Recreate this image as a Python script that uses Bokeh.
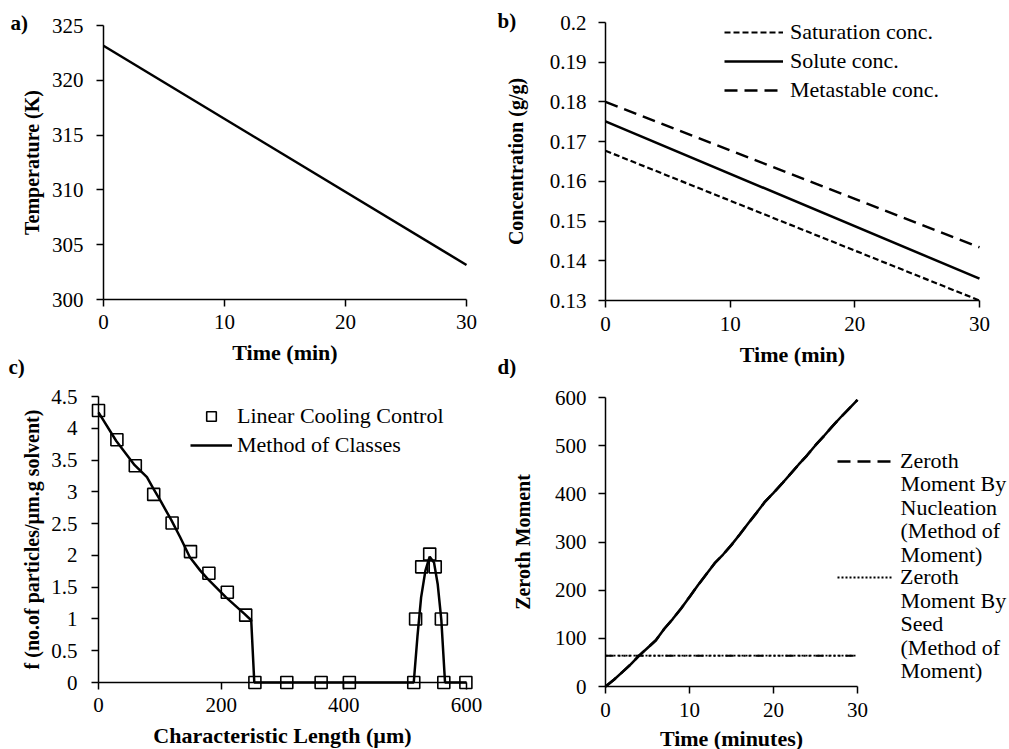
from bokeh.plotting import figure
from bokeh.layouts import column, row
from bokeh.models import Label, Legend, LegendItem, FixedTicker, Range1d
from bokeh.embed import file_html
from bokeh.resources import INLINE

FONT = "Liberation Serif"
TICK_PX = "21px"
YTITLE_PX = "20px"
XTITLE_PX = "22px"
LEGEND_PX = "22px"

# ---- a) cooling profile ----
time_a = [0, 30]
temperature_a = [323.15, 303.15]
xticks_a = [0, 10, 20, 30]
yticks_a = [300, 305, 310, 315, 320, 325]

# ---- b) concentrations ----
time_b = [0, 30]
saturation_b = [0.1677, 0.1300]
solute_b = [0.1751, 0.1355]
metastable_b = [0.1800, 0.1434]
xticks_b = [0, 10, 20, 30]
yticks_b = [0.13, 0.14, 0.15, 0.16, 0.17, 0.18, 0.19, 0.2]
ylabels_b = ["0.13", "0.14", "0.15", "0.16", "0.17", "0.18", "0.19", "0.2"]

# ---- c) crystal size distribution ----
length_lcc = [0, 30, 60, 90, 120, 150, 180, 210, 240, 255, 307, 363, 409, 514,
              517, 527, 540, 549, 559, 563, 599]
f_lcc = [4.28, 3.82, 3.41, 2.96, 2.51, 2.06, 1.72, 1.42, 1.06, 0, 0, 0, 0, 0,
         1.0, 1.82, 2.02, 1.82, 1.0, 0, 0]
length_moc = [0, 29, 59, 79, 89, 101, 119, 133, 149, 166, 178, 208, 238, 249, 254,
              300, 400, 514, 520, 526, 533, 540, 547, 553, 559, 565, 600]
f_moc = [4.25, 3.80, 3.42, 3.23, 3.06, 2.86, 2.55, 2.29, 1.97, 1.76, 1.63, 1.34,
         1.08, 0.98, 0, 0, 0, 0, 0.72, 1.34, 1.76, 1.98, 1.89, 1.55, 0.98, 0, 0]
xticks_c = [0, 200, 400, 600]
yticks_c = [0, 0.5, 1, 1.5, 2, 2.5, 3, 3.5, 4, 4.5]
ylabels_c = ["0", "0.5", "1", "1.5", "2", "2.5", "3", "3.5", "4", "4.5"]

# ---- d) zeroth moment ----
time_d = list(range(31))
nucleation_d = [0, 14, 30, 46, 64, 80, 96, 120, 140, 162, 186, 210, 233, 256, 274,
                294, 316, 339, 361, 384, 402, 421, 441, 461, 480, 501, 520, 540,
                559, 577, 595]
time_seed = [0, 30]
seed_d = [64, 64]
xticks_d = [0, 10, 20, 30]
yticks_d = [0, 100, 200, 300, 400, 500, 600]


def pixel_range(v0, p0, v1, p1, size, from_top=False):
    """Range whose ends sit at pixel 0 and `size`, given two anchor values."""
    k = (v1 - v0) / (p1 - p0)
    at_0 = v0 - p0 * k
    at_size = v0 + (size - p0) * k
    return Range1d(at_size, at_0) if from_top else Range1d(at_0, at_size)


def make_fig(w, h, xr, yr):
    # the plotting area fills the whole canvas; axes are pinned to data positions
    p = figure(width=w, height=h, x_range=xr, y_range=yr,
               output_backend="svg", toolbar_location=None,
               min_border=0, min_border_left=0, min_border_right=0,
               min_border_top=0, min_border_bottom=0)
    p.xgrid.visible = False
    p.ygrid.visible = False
    p.outline_line_color = None
    p.background_fill_color = "white"
    p.border_fill_color = "white"
    return p


def style_axis(ax, ticks, bounds, at, title, title_px, label_standoff, title_standoff,
               overrides=None):
    ax.ticker = FixedTicker(ticks=ticks)
    ax.bounds = bounds
    ax.fixed_location = at
    if overrides:
        ax.major_label_overrides = overrides
    ax.axis_label = title
    ax.axis_label_text_font = FONT
    ax.axis_label_text_font_style = "bold"
    ax.axis_label_text_font_size = title_px
    ax.axis_label_text_color = "black"
    ax.axis_label_standoff = title_standoff
    ax.major_label_text_font = FONT
    ax.major_label_text_font_size = TICK_PX
    ax.major_label_text_color = "black"
    ax.major_label_standoff = label_standoff
    ax.axis_line_color = "black"
    ax.axis_line_width = 1.5
    ax.major_tick_line_color = "black"
    ax.major_tick_line_width = 1.5
    ax.major_tick_out = 7
    ax.major_tick_in = 0
    ax.minor_tick_line_color = None


def panel_label(p, text, x, y):
    p.add_layout(Label(x=x, y=y, x_units="screen", y_units="screen", text=text,
                       text_font=FONT, text_font_style="bold", text_font_size="21px",
                       text_color="black", text_align="left", text_baseline="middle"))


def style_legend(lg, gw, standoff, spacing):
    lg.padding = 0
    lg.margin = 0
    lg.spacing = spacing
    lg.glyph_width = gw
    lg.glyph_height = 24
    lg.label_height = 24
    lg.label_standoff = standoff
    lg.label_text_font = FONT
    lg.label_text_font_size = LEGEND_PX
    lg.label_text_color = "black"
    lg.border_line_alpha = 0
    lg.background_fill_alpha = 0


# a) temperature
pa = make_fig(495, 378, pixel_range(0, 103, 30, 466, 495),
              pixel_range(325, 25, 300, 299, 378, from_top=True))
pa.line(time_a, temperature_a, line_color="black", line_width=2.5)
style_axis(pa.xaxis[0], xticks_a, (0, 30), 300, "Time (min)", XTITLE_PX, 8, 8)
style_axis(pa.yaxis[0], yticks_a, (300, 325), 0, "Temperature (K)", YTITLE_PX, 13, 6)
panel_label(pa, "a)", 10, 378 - 22)
panel_label(pa, "c)", 8, 378 - 366)

# b) concentrations
pb = make_fig(514, 378, pixel_range(0, 110, 30, 484, 514),
              pixel_range(0.2, 22, 0.13, 300, 378, from_top=True))
r_sat = pb.line(time_b, saturation_b, line_color="black", line_width=2.2, line_dash="6 3")
r_sol = pb.line(time_b, solute_b, line_color="black", line_width=2.5)
r_met = pb.line(time_b, metastable_b, line_color="black", line_width=2.5, line_dash="13 7")
style_axis(pb.xaxis[0], xticks_b, (0, 30), 0.13, "Time (min)", XTITLE_PX, 9, 8)
style_axis(pb.yaxis[0], yticks_b, (0.13, 0.2), 0, "Concentration (g/g)", YTITLE_PX, 12, 20,
           {t: s for t, s in zip(yticks_b, ylabels_b)})
lg_b = Legend(items=[LegendItem(label="Saturation conc.", renderers=[r_sat]),
                     LegendItem(label="Solute conc.", renderers=[r_sol]),
                     LegendItem(label="Metastable conc.", renderers=[r_met])],
              location=(229, 275))
style_legend(lg_b, 59, 7, 3)
pb.add_layout(lg_b)
panel_label(pb, "b)", 2, 378 - 20)
panel_label(pb, "d)", 2, 378 - 366)

# c) size distribution
pc = make_fig(495, 371, pixel_range(0, 98, 600, 466, 495),
              pixel_range(4.5, 18, 0, 304, 371, from_top=True))
r_moc = pc.line(length_moc, f_moc, line_color="black", line_width=2.5)
r_lcc = pc.scatter(length_lcc, f_lcc, marker="square", size=12, fill_alpha=0,
                   line_color="black", line_width=1.6)
style_axis(pc.xaxis[0], xticks_c, (0, 600), 0, "Characteristic Length (\u00b5m)",
           XTITLE_PX, 8, 8)
style_axis(pc.yaxis[0], yticks_c, (0, 4.5), 0, "f (no.of particles/\u00b5m.g solvent)",
           YTITLE_PX, 14, 5, {t: s for t, s in zip(yticks_c, ylabels_c)})
lg_c = Legend(items=[LegendItem(label="Linear Cooling Control", renderers=[r_lcc]),
                     LegendItem(label="Method of Classes", renderers=[r_moc])],
              location=(190, 291))
style_legend(lg_c, 42, 5, 3)
pc.add_layout(lg_c)

# d) zeroth moment
pd_ = make_fig(514, 371, pixel_range(0, 110, 30, 362, 514),
               pixel_range(600, 19, 0, 308, 371, from_top=True))
pd_.line(time_d, nucleation_d, line_color="black", line_width=2.5)
r_nuc = pd_.line(time_d, nucleation_d, line_color="black", line_width=2.5, line_dash="13 7")
# seed contribution: dotted trace drawn over a dash-dot companion trace
pd_.line(time_seed, seed_d, line_color="black", line_width=2,
         line_dash="8 5 2 3 2 3 2 5")
r_seed = pd_.line(time_seed, seed_d, line_color="black", line_width=1.8, line_dash="2 2")
style_axis(pd_.xaxis[0], xticks_d, (0, 30), 0, "Time (minutes)", XTITLE_PX, 9, 6)
style_axis(pd_.yaxis[0], yticks_d, (0, 600), 0, "Zeroth Moment", YTITLE_PX, 12, 18)

# legend entries wrap over several lines, with the sample beside the first line
lg_d = Legend(items=[LegendItem(label="Zeroth", renderers=[r_nuc]),
                     LegendItem(label="Zeroth", renderers=[r_seed])],
              location=(342, 159))
style_legend(lg_d, 56, 7, 90)
pd_.add_layout(lg_d)
for text, top in [("Moment By\nNucleation\n(Method of\nMoment)", 92.5),
                  ("Moment By\nSeed\n(Method of\nMoment)", 209)]:
    pd_.add_layout(Label(x=405, y=371 - top, x_units="screen", y_units="screen",
                         text=text, text_font=FONT, text_font_size=LEGEND_PX,
                         text_color="black", text_align="left", text_baseline="top",
                         text_line_height=0.944))

layout = column(row(pa, pb), row(pc, pd_))
open("out.html", "w").write(file_html(layout, INLINE))
